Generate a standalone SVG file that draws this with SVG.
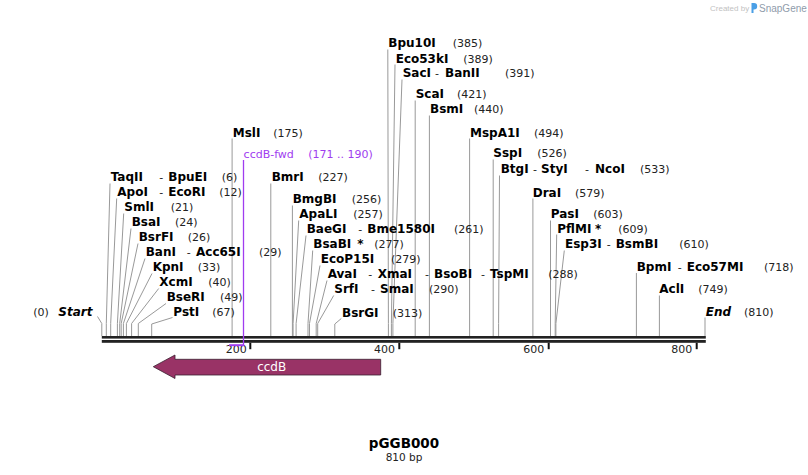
<svg xmlns="http://www.w3.org/2000/svg" width="808" height="475" viewBox="0 0 808 475">
<style>
text{font-family:"DejaVu Sans",Verdana,sans-serif;}
.n{font-size:12px;font-weight:bold;fill:#000;}
.ni{font-size:12px;font-weight:bold;font-style:italic;fill:#000;}
.p{font-size:11px;fill:#222;}
.d{font-size:11px;fill:#222;}
.pr{font-size:11px;fill:#a03cf0;}
.ln{fill:none;stroke:#999;stroke-width:1;}
.tk{font-size:11px;fill:#222;text-anchor:end;}
</style>
<rect width="808" height="475" fill="#fff"/>
<g id="watermark">
<text x="710" y="11" style="font-family:'Liberation Sans',Arial,sans-serif;font-size:8px;fill:#c2c2c2">Created by</text>
<path d="M751.5,3 h2.5 a3.2,3.2 0 0 1 0,6.4 h-0.5 v3.6 h-2 z" fill="#4a9fe6"/>
<text x="759" y="12" style="font-family:'Liberation Sans',Arial,sans-serif;font-size:10px;fill:#8f9cab">SnapGene</text>
</g>
<g id="connectors">
<polyline class="ln" points="97.5,316.5 101.8,323.5 101.8,336"/>
<polyline class="ln" points="110,183.5 106.3,323.5 106.3,336"/>
<polyline class="ln" points="116.7,198.5 110.7,323.5 110.7,336"/>
<polyline class="ln" points="123.7,213.5 117.4,323.5 117.4,336"/>
<polyline class="ln" points="131,228.5 119.7,323.5 119.7,336"/>
<polyline class="ln" points="138,243.5 121.2,323.5 121.2,336"/>
<polyline class="ln" points="145,258.5 123.4,323.5 123.4,336"/>
<polyline class="ln" points="152,273.5 126.4,323.5 126.4,336"/>
<polyline class="ln" points="158.7,288.5 131.6,323.5 131.6,336"/>
<polyline class="ln" points="166,303.5 138.3,323.5 138.3,336"/>
<polyline class="ln" points="172.5,317.5 151.7,324 151.7,336"/>
<polyline class="ln" points="232.1,138.5 232.1,336"/>
<polyline class="ln" points="270.8,183.5 270.8,336"/>
<polyline class="ln" points="292.4,205.5 292.4,336"/>
<polyline class="ln" points="298.7,220.5 293.1,323.5 293.1,336"/>
<polyline class="ln" points="306,235.5 296.1,323.5 296.1,336"/>
<polyline class="ln" points="312.7,250.5 308,323.5 308,336"/>
<polyline class="ln" points="320,265.5 309.5,323.5 309.5,336"/>
<polyline class="ln" points="327,280.5 316.2,323.5 316.2,336"/>
<polyline class="ln" points="333.7,295.5 317.7,323.5 317.7,336"/>
<polyline class="ln" points="341.3,318.5 334.8,324 334.8,336"/>
<polyline class="ln" points="387.8,49.5 388.4,323.5 388.4,336"/>
<polyline class="ln" points="395,64.5 391.4,323.5 391.4,336"/>
<polyline class="ln" points="402,79.5 392.9,323.5 392.9,336"/>
<polyline class="ln" points="415.2,100.5 415.2,336"/>
<polyline class="ln" points="429.4,115.5 429.4,336"/>
<polyline class="ln" points="469.6,138.5 469.6,336"/>
<polyline class="ln" points="493.2,159.5 493.2,336"/>
<polyline class="ln" points="499.5,175.5 498.6,323.5 498.6,336"/>
<polyline class="ln" points="532.9,198.5 532.9,336"/>
<polyline class="ln" points="550.5,220.5 550.5,336"/>
<polyline class="ln" points="556.7,234.5 555.2,323.5 555.2,336"/>
<polyline class="ln" points="564.3,250.5 555.9,323.5 555.9,336"/>
<polyline class="ln" points="636.4,273 636.4,336"/>
<polyline class="ln" points="659.4,295.5 659.4,336"/>
<polyline class="ln" points="705,317.5 705,336"/>
</g>
<g id="backbone">
<rect x="101.8" y="336" width="604" height="2.6" fill="#222"/>
<rect x="101.8" y="340" width="604" height="2.8" fill="#222"/>
<rect x="249.3" y="342.8" width="2" height="6.4" fill="#111"/>
<rect x="398.3" y="342.8" width="2" height="6.4" fill="#111"/>
<rect x="547.7" y="342.8" width="2" height="6.4" fill="#111"/>
<rect x="695.7" y="342.8" width="2" height="6.4" fill="#111"/>
<text class="tk" x="246.7" y="352.7">200</text>
<text class="tk" x="395" y="352.7">400</text>
<text class="tk" x="544.3" y="352.7">600</text>
<text class="tk" x="692.3" y="352.7">800</text>
</g>
<g id="ccdB-fwd">
<line x1="243.5" y1="160" x2="243.5" y2="346" stroke="#a03cf0" stroke-width="1.3"/>
<rect x="229.1" y="344.2" width="15" height="2" fill="#a03cf0"/>
<text class="pr" x="243.6" y="157.7">ccdB-fwd</text>
<text class="pr" x="308.3" y="157.7">(171 .. 190)</text>
</g>
<g id="ccdB">
<polygon points="153.3,366.7 175,355 175,359.3 380.7,359.3 380.7,375 175,375 175,378.5" fill="#993366" stroke="#3a2030" stroke-width="0.8"/>
<text x="271.7" y="371" text-anchor="middle" style="font-size:12px;fill:#fff">ccdB</text>
</g>
<g id="Start"><text class="p" x="33.3" y="316">(0)</text><text class="ni" x="58.3" y="316">Start</text></g>
<g id="End"><text class="ni" x="705.7" y="315.5">End</text><text class="p" x="744" y="315.5">(810)</text></g>
<g id="TaqII"><text class="n" x="110.7" y="181.3">TaqII</text><text class="d" x="159.3" y="181.3">-</text><text class="n" x="168.3" y="181.3">BpuEI</text><text class="p" x="221.7" y="181.3">(6)</text></g>
<g id="ApoI"><text class="n" x="117.3" y="196.3">ApoI</text><text class="d" x="159.3" y="196.3">-</text><text class="n" x="168.3" y="196.3">EcoRI</text><text class="p" x="219.3" y="196.3">(12)</text></g>
<g id="SmlI"><text class="n" x="124.3" y="211.3">SmlI</text><text class="p" x="170.7" y="211.3">(21)</text></g>
<g id="BsaI"><text class="n" x="131.7" y="226.3">BsaI</text><text class="p" x="175" y="226.3">(24)</text></g>
<g id="BsrFI"><text class="n" x="138.7" y="241.3">BsrFI</text><text class="p" x="187.7" y="241.3">(26)</text></g>
<g id="BanI"><text class="n" x="145.7" y="256.3">BanI</text><text class="d" x="186.7" y="256.3">-</text><text class="n" x="196" y="256.3">Acc65I</text><text class="p" x="259" y="256.3">(29)</text></g>
<g id="KpnI"><text class="n" x="152.7" y="271.3">KpnI</text><text class="p" x="197.7" y="271.3">(33)</text></g>
<g id="XcmI"><text class="n" x="159.3" y="286.3">XcmI</text><text class="p" x="208.3" y="286.3">(40)</text></g>
<g id="BseRI"><text class="n" x="166.7" y="301.3">BseRI</text><text class="p" x="220" y="301.3">(49)</text></g>
<g id="PstI"><text class="n" x="173.3" y="316.3">PstI</text><text class="p" x="212.3" y="316.3">(67)</text></g>
<g id="MslI"><text class="n" x="232.7" y="136.7">MslI</text><text class="p" x="273.3" y="136.7">(175)</text></g>
<g id="BmrI"><text class="n" x="271.7" y="181">BmrI</text><text class="p" x="318.3" y="181">(227)</text></g>
<g id="BmgBI"><text class="n" x="292.7" y="203.3">BmgBI</text><text class="p" x="351.7" y="203.3">(256)</text></g>
<g id="ApaLI"><text class="n" x="299.3" y="218.3">ApaLI</text><text class="p" x="353.3" y="218.3">(257)</text></g>
<g id="BaeGI"><text class="n" x="306.7" y="233.3">BaeGI</text><text class="d" x="358.3" y="233.3">-</text><text class="n" x="367.3" y="233.3">Bme1580I</text><text class="p" x="454" y="233.3">(261)</text></g>
<g id="BsaBI"><text class="n" x="313.3" y="248.3">BsaBI</text><text class="n" x="357.3" y="248.3">*</text><text class="p" x="374.3" y="248.3">(277)</text></g>
<g id="EcoP15I"><text class="n" x="320.7" y="263.3">EcoP15I</text><text class="p" x="391" y="263.3">(279)</text></g>
<g id="AvaI"><text class="n" x="327.7" y="278.3">AvaI</text><text class="d" x="368.3" y="278.3">-</text><text class="n" x="377.7" y="278.3">XmaI</text><text class="d" x="425" y="278.3">-</text><text class="n" x="434" y="278.3">BsoBI</text><text class="d" x="481" y="278.3">-</text><text class="n" x="490" y="278.3">TspMI</text><text class="p" x="548.3" y="278.3">(288)</text></g>
<g id="SrfI"><text class="n" x="334.3" y="293.3">SrfI</text><text class="d" x="371" y="293.3">-</text><text class="n" x="380" y="293.3">SmaI</text><text class="p" x="429" y="293.3">(290)</text></g>
<g id="BsrGI"><text class="n" x="342" y="316.5">BsrGI</text><text class="p" x="392.7" y="316.5">(313)</text></g>
<g id="Bpu10I"><text class="n" x="388.3" y="47.3">Bpu10I</text><text class="p" x="452.7" y="47.3">(385)</text></g>
<g id="Eco53kI"><text class="n" x="395.7" y="62.7">Eco53kI</text><text class="p" x="463.3" y="62.7">(389)</text></g>
<g id="SacI"><text class="n" x="402.7" y="77.3">SacI</text><text class="d" x="435" y="77.3">-</text><text class="n" x="445" y="77.3">BanII</text><text class="p" x="505" y="77.3">(391)</text></g>
<g id="ScaI"><text class="n" x="415.7" y="98.3">ScaI</text><text class="p" x="457" y="98.3">(421)</text></g>
<g id="BsmI"><text class="n" x="430" y="113.3">BsmI</text><text class="p" x="474" y="113.3">(440)</text></g>
<g id="MspA1I"><text class="n" x="470" y="136.5">MspA1I</text><text class="p" x="534" y="136.5">(494)</text></g>
<g id="SspI"><text class="n" x="493.3" y="157.3">SspI</text><text class="p" x="537.3" y="157.3">(526)</text></g>
<g id="BtgI"><text class="n" x="500.7" y="173.3">BtgI</text><text class="d" x="533" y="173.3">-</text><text class="n" x="541" y="173.3">StyI</text><text class="d" x="585" y="173.3">-</text><text class="n" x="595" y="173.3">NcoI</text><text class="p" x="640" y="173.3">(533)</text></g>
<g id="DraI"><text class="n" x="532.7" y="196.7">DraI</text><text class="p" x="575" y="196.7">(579)</text></g>
<g id="PasI"><text class="n" x="550.7" y="218.3">PasI</text><text class="p" x="593.3" y="218.3">(603)</text></g>
<g id="PflMI"><text class="n" x="557.3" y="232.7">PflMI</text><text class="n" x="595" y="232.7">*</text><text class="p" x="618.3" y="232.7">(609)</text></g>
<g id="Esp3I"><text class="n" x="565" y="248.3">Esp3I</text><text class="d" x="606.7" y="248.3">-</text><text class="n" x="615.7" y="248.3">BsmBI</text><text class="p" x="679.3" y="248.3">(610)</text></g>
<g id="BpmI"><text class="n" x="636.7" y="271">BpmI</text><text class="d" x="677.7" y="271">-</text><text class="n" x="686.7" y="271">Eco57MI</text><text class="p" x="764" y="271">(718)</text></g>
<g id="AclI"><text class="n" x="659.3" y="293.3">AclI</text><text class="p" x="698.3" y="293.3">(749)</text></g>
<g id="title">
<text x="404" y="448.3" text-anchor="middle" style="font-size:13.5px;font-weight:bold;fill:#000">pGGB000</text>
<text x="404" y="460.7" text-anchor="middle" style="font-size:10.5px;fill:#222">810 bp</text>
</g>
</svg>
